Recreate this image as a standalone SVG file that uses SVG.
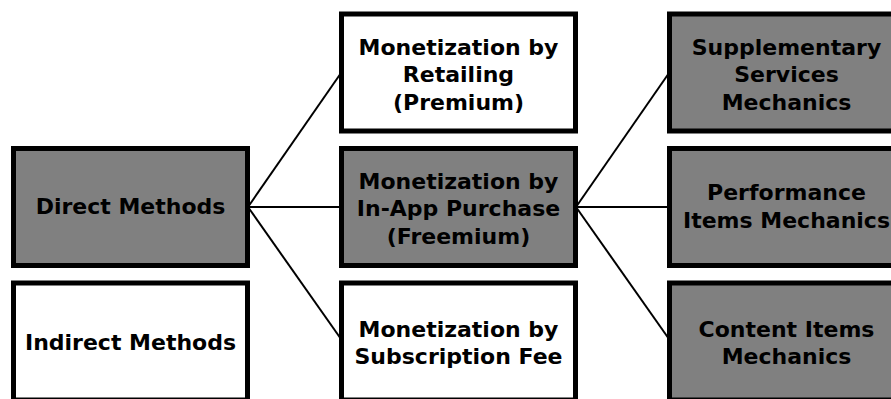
<svg xmlns="http://www.w3.org/2000/svg" width="891" height="399" viewBox="0 0 891 399">
<style>
.box{stroke:#000;stroke-width:5}
.g{fill:#808080}
.w{fill:#fff}
.t{font-family:"DejaVu Sans",sans-serif;font-weight:bold;font-size:22px;fill:#000;text-anchor:middle}
.c{stroke:#000;stroke-width:2;fill:none}
</style>
<rect width="891" height="399" fill="#fff"/>
<g id="connectors">
<line class="c" x1="248" y1="207" x2="341" y2="73"/>
<line class="c" x1="248" y1="207" x2="341" y2="207"/>
<line class="c" x1="248" y1="207" x2="341" y2="339"/>
<line class="c" x1="576" y1="207" x2="669" y2="73"/>
<line class="c" x1="576" y1="207" x2="669" y2="207"/>
<line class="c" x1="576" y1="207" x2="669" y2="339"/>
</g>
<g id="direct">
<rect class="box g" x="13.5" y="148.5" width="234" height="117"/>
<text class="t" x="130.5" y="214">Direct Methods</text>
</g>
<g id="indirect">
<rect class="box w" x="13.5" y="283" width="234" height="117"/>
<text class="t" x="130.5" y="350">Indirect Methods</text>
</g>
<g id="retailing">
<rect class="box w" x="341.5" y="14" width="234" height="117"/>
<text class="t" x="458.5" y="54.5">Monetization by</text>
<text class="t" x="458.5" y="82">Retailing</text>
<text class="t" x="458.5" y="109.5">(Premium)</text>
</g>
<g id="inapp">
<rect class="box g" x="341.5" y="148.5" width="234" height="117"/>
<text class="t" x="458.5" y="188.5">Monetization by</text>
<text class="t" x="458.5" y="216">In-App Purchase</text>
<text class="t" x="458.5" y="243.5">(Freemium)</text>
</g>
<g id="subscription">
<rect class="box w" x="341.5" y="283" width="234" height="117"/>
<text class="t" x="458.5" y="336.5">Monetization by</text>
<text class="t" x="458.5" y="363.5">Subscription Fee</text>
</g>
<g id="supplementary">
<rect class="box g" x="669.5" y="14" width="234" height="117"/>
<text class="t" x="786.5" y="54.5">Supplementary</text>
<text class="t" x="786.5" y="82">Services</text>
<text class="t" x="786.5" y="109.5">Mechanics</text>
</g>
<g id="performance">
<rect class="box g" x="669.5" y="148.5" width="234" height="117"/>
<text class="t" x="786.5" y="200">Performance</text>
<text class="t" x="786.5" y="227.5">Items Mechanics</text>
</g>
<g id="content">
<rect class="box g" x="669.5" y="283" width="234" height="117"/>
<text class="t" x="786.5" y="336.5">Content Items</text>
<text class="t" x="786.5" y="363.5">Mechanics</text>
</g>
</svg>
